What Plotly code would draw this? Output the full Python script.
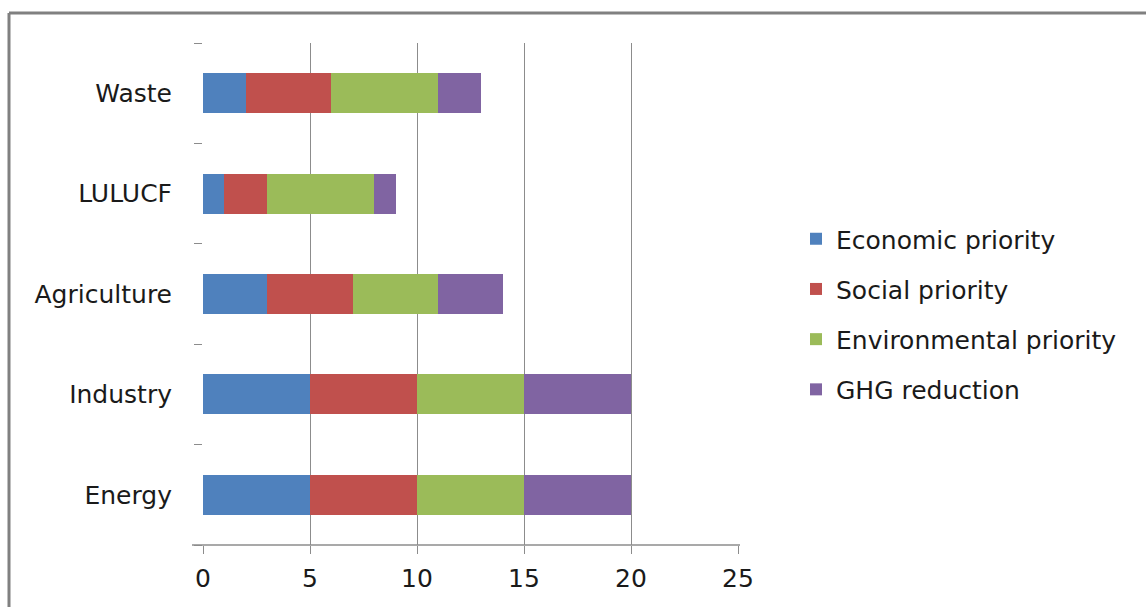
import plotly.graph_objects as go

categories = ["Energy", "Industry", "Agriculture", "LULUCF", "Waste"]
series_names = ["Economic priority", "Social priority", "Environmental priority", "GHG reduction"]
economic = [5, 5, 3, 1, 2]
social = [5, 5, 4, 2, 4]
environmental = [5, 5, 4, 5, 5]
ghg = [5, 5, 3, 1, 2]
colors = ["#4F81BD", "#C0504D", "#9BBB59", "#8064A2"]
x_ticks = [0, 5, 10, 15, 20, 25]

FONT = "DejaVu Sans"
FS = 25
fig = go.Figure()
for name, vals, col in zip(series_names, [economic, social, environmental, ghg], colors):
    fig.add_trace(go.Bar(
        y=categories, x=vals, name=name, orientation="h", legendgroup=name,
        marker=dict(color=col, line=dict(width=0)), width=0.4,
    ))

W, H = 1146, 607
L, R, T, B = 203, 1146 - 738, 43, 607 - 545
pw = W - L - R
ph = H - T - B

fig.update_layout(
    barmode="stack",
    width=W, height=H,
    margin=dict(l=L, r=R, t=T, b=B, pad=0),
    paper_bgcolor="white", plot_bgcolor="white",
    font=dict(family=FONT, size=FS, color="#1a1a1a"),
    showlegend=True,
    legend=dict(
        x=(796 - L) / pw, y=1 - (216 - T) / ph, xanchor="left", yanchor="top",
        font=dict(family=FONT, size=FS, color="#1a1a1a"),
        traceorder="grouped", itemsizing="constant", tracegroupgap=14.7,
        bgcolor="rgba(0,0,0,0)",
    ),
    xaxis=dict(
        range=[0, 25], tickvals=x_ticks, ticktext=[str(v) for v in x_ticks],
        showgrid=True, gridcolor="#8c8c8c", gridwidth=1,
        zeroline=True, zerolinecolor="white", zerolinewidth=1,
        showline=False, ticks="outside", ticklen=8, tickcolor="#8c8c8c",
        tickfont=dict(family=FONT, size=FS, color="#1a1a1a"),
        ticklabelstandoff=3,
        fixedrange=True,
    ),
    yaxis=dict(
        categoryorder="array", categoryarray=categories,
        tickson="boundaries", ticks="outside", ticklen=8, tickcolor="#8c8c8c",
        showline=False, showgrid=False, zeroline=False,
        tickfont=dict(family=FONT, size=FS, color="#1a1a1a"),
        ticklabelstandoff=30,
        range=[-0.5, 4.5],
        fixedrange=True,
    ),
)

# x axis baseline, extending slightly left of the plot area
fig.add_shape(type="line", xref="paper", yref="paper",
              x0=(192 - L) / pw, x1=(740 - L) / pw, y0=0, y1=0,
              line=dict(color="#8c8c8c", width=1.5))
# outer chart border (top and left edges)
fig.add_shape(type="line", xref="paper", yref="paper",
              x0=(9 - L) / pw, x1=(1150 - L) / pw, y0=1 + (T - 13) / ph, y1=1 + (T - 13) / ph,
              line=dict(color="#808080", width=3))
fig.add_shape(type="line", xref="paper", yref="paper",
              x0=(9 - L) / pw, x1=(9 - L) / pw, y0=1 + (T - 13) / ph, y1=-(B + 5) / ph,
              line=dict(color="#808080", width=3))

fig.write_html("out.html")
